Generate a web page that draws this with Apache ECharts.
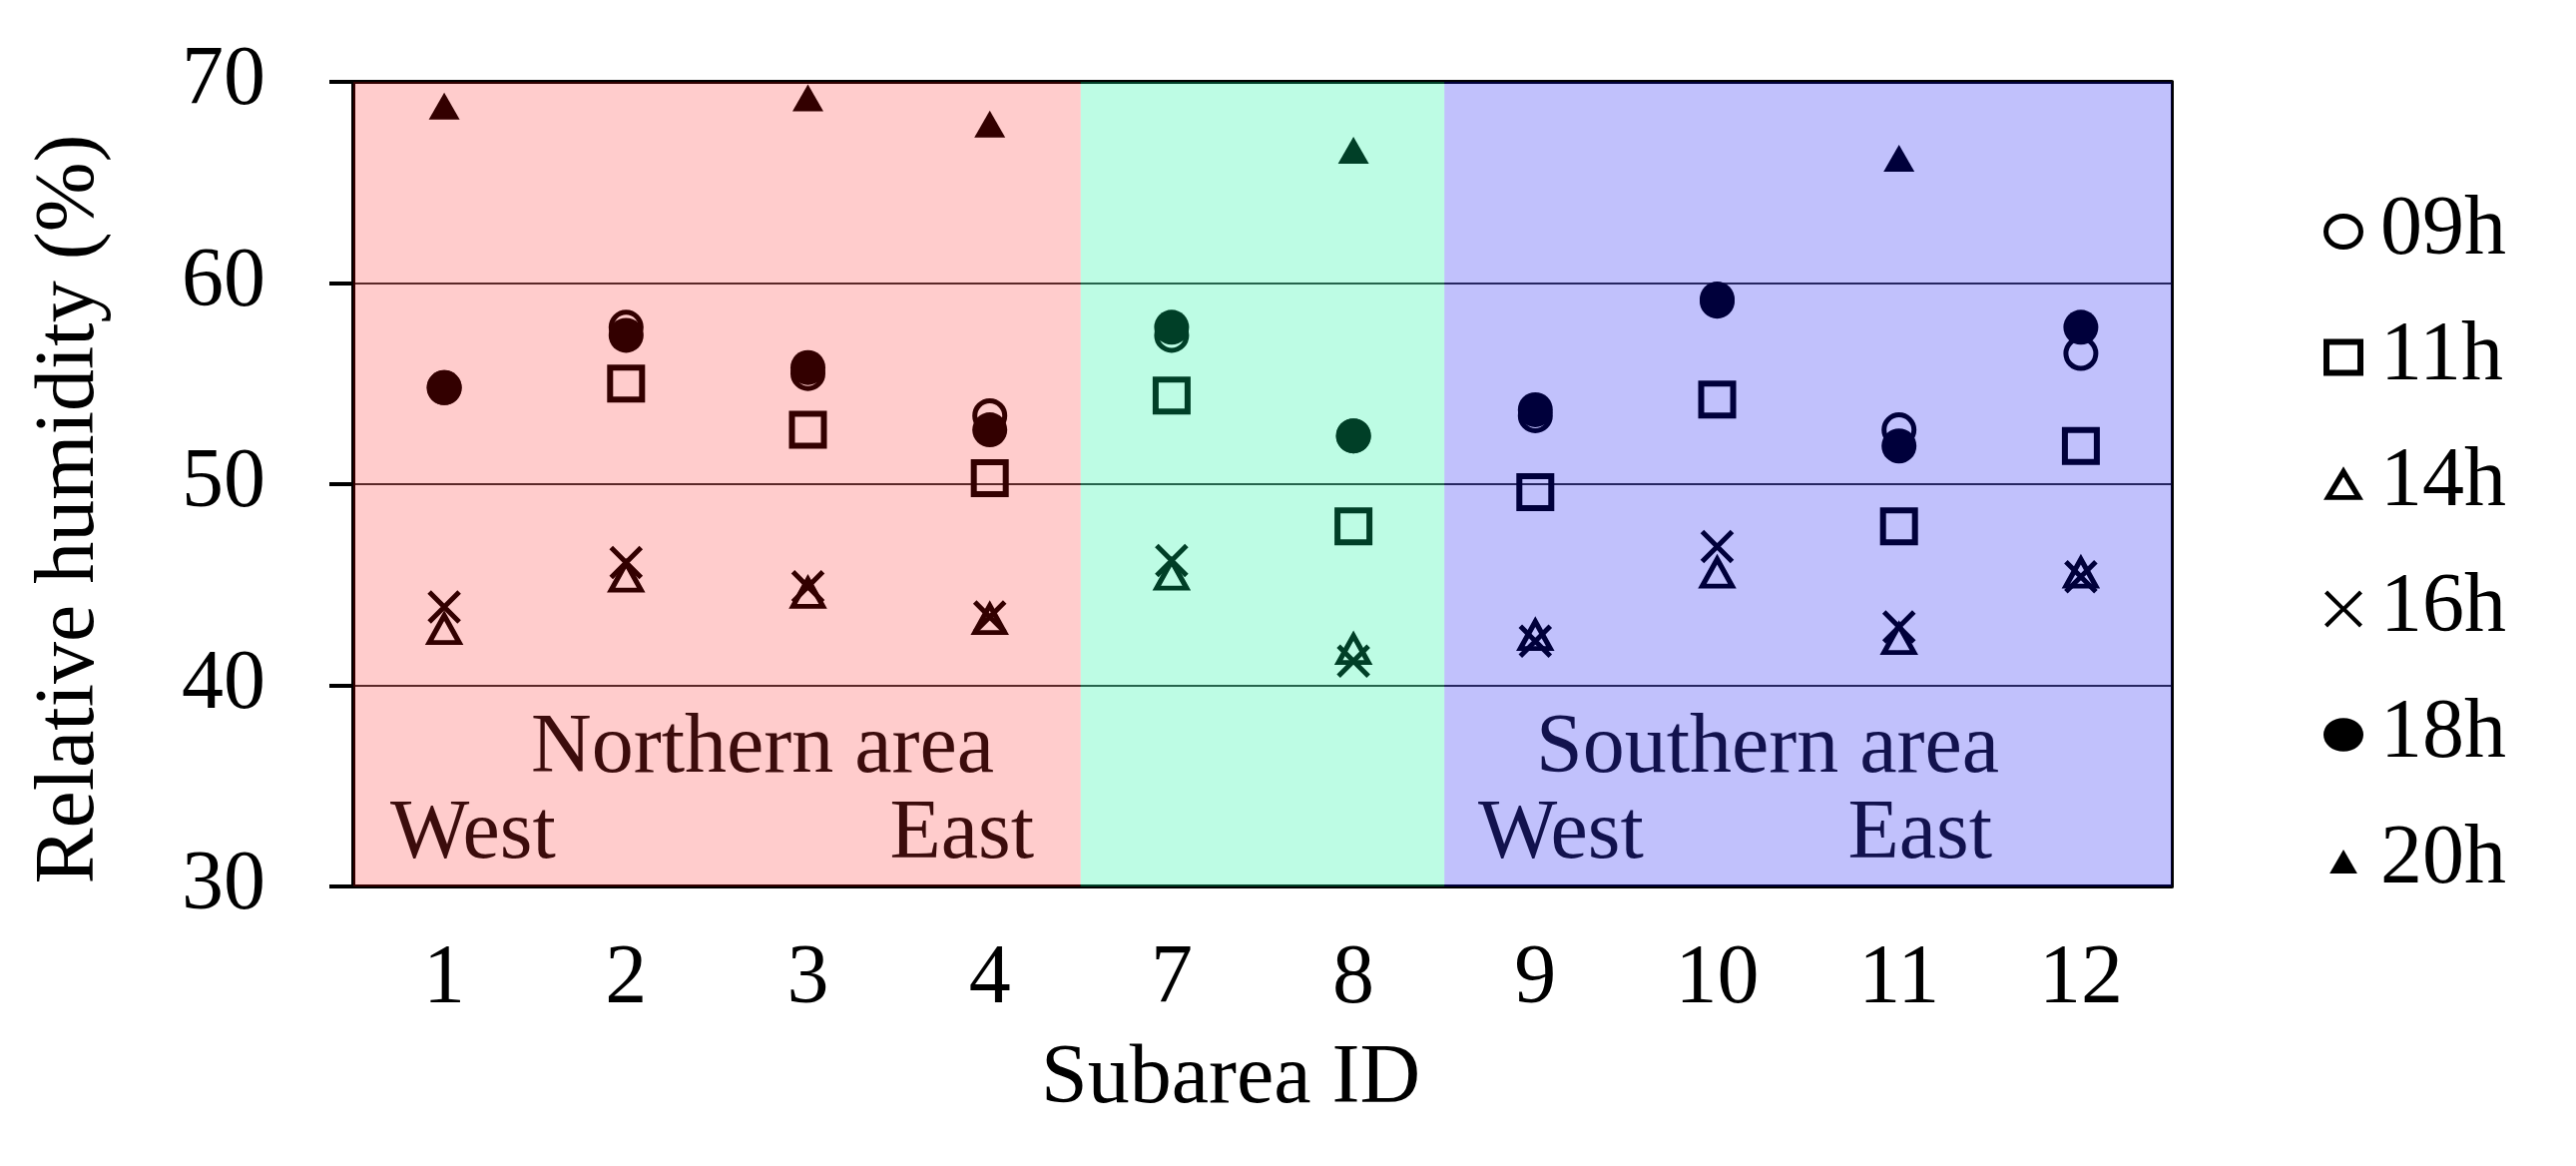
<!DOCTYPE html>
<html>
<head>
<meta charset="utf-8">
<title>Relative humidity by subarea</title>
<script src="https://cdn.jsdelivr.net/npm/echarts@6/dist/echarts.min.js"></script>
<style>
    html, body { margin: 0; padding: 0; background: #fff; }
    #humidity { width: 2581px; height: 1168px; }
</style>
</head>
<body>
<div id="humidity"></div>
<script>
// subarea ids on the x axis
var subareas = ['1', '2', '3', '4', '7', '8', '9', '10', '11', '12'];
var northern = ['1', '2', '3', '4'];
var central = ['7', '8'];
var southern = ['9', '10', '11', '12'];

// relative humidity (%), null = no point
var rh09 = [54.8, 57.8, 55.5, 53.4, 57.4, 52.4, 53.4, 59.1, 52.7, 56.5];
var rh11 = [null, 55.0, 52.7, 50.3, 54.4, 47.9, 49.6, 54.2, 47.9, 51.9];
var rh14 = [42.8, 45.4, 44.6, 43.3, 45.5, 41.8, 42.5, 45.6, 42.3, 45.6];
var rh16 = [43.9, 46.1, 44.9, 43.4, 46.2, 41.2, 42.2, 46.9, 42.9, 45.4];
var rh18 = [54.8, 57.4, 55.8, 52.7, 57.8, 52.4, 53.7, 59.2, 51.9, 57.8];
var rh20 = [68.8, null, 69.2, 67.9, null, 66.6, null, null, 66.2, null];

var yMin = 30, yMax = 70, yStep = 10;

var serif = 'Liberation Serif';
var crossPath = 'path://M0,0L10,10M10,0L0,10';
var clear = 'rgba(0,0,0,0)';

// legend icons as filled outlines so the strokes keep their weight
var ringIcon = 'path://M0,18A20,18 0 1 1 40,18A20,18 0 1 1 0,18Z M5,18A15,13 0 1 0 35,18A15,13 0 1 0 5,18Z';
var boxIcon = 'path://M0,0L40,0L40,37L0,37Z M6,6L6,31L34,31L34,6Z';
var openTriIcon = 'path://M19,0L38,32L0,32Z M19,10L8.5,27.5L29.5,27.5Z';
var crossIcon = 'path://M0,3L3,0L19,16L35,0L38,3L22,18.5L38,34L35,37L19,21L3,37L0,34L16,18.5Z';
var dotIcon = 'path://M0,16A19,16 0 1 1 38,16A19,16 0 1 1 0,16Z';
var smallTriIcon = 'path://M0,0M40,40M5,34L20,8L35,34Z';

var myChart = echarts.init(document.getElementById('humidity'));

function pointSeries(name, values, symbol, size, fill, border)
{
    return {
        name: name,
        type: 'scatter',
        xAxisIndex: 0,
        yAxisIndex: 0,
        symbol: symbol,
        symbolSize: size,
        itemStyle: {
            color: fill,
            borderColor: '#000',
            borderWidth: border,
            opacity: 1
        },
        data: values.map(function (v) { return v === null ? '-' : v; })
    };
}

function legendItem(name, icon)
{
    return {name: name, icon: icon, itemStyle: {color: '#000', borderWidth: 0}};
}

// area spans on the hidden 0..10 axis, counted from the group sizes
var nEnd = northern.length;
var cEnd = nEnd + central.length;
var sEnd = cEnd + southern.length;

option = {
    animation: false,
    backgroundColor: '#fff',
    grid: {
        left: 354,
        right: 405,
        top: 82,
        bottom: 280
    },
    legend: {
        orient: 'vertical',
        left: 2323,
        top: 185,
        itemWidth: 40,
        itemHeight: 37,
        itemGap: 42,
        selectedMode: false,
        textStyle: {
            fontFamily: serif,
            fontSize: 84,
            lineHeight: 84,
            color: '#000',
            padding: [0, 0, 0, 12]
        },
        data: [
            legendItem('09h', ringIcon),
            legendItem('11h', boxIcon),
            legendItem('14h', openTriIcon),
            legendItem('16h', crossIcon),
            legendItem('18h', dotIcon),
            legendItem('20h', smallTriIcon)
        ]
    },
    xAxis: [
        {
            type: 'category',
            data: subareas,
            boundaryGap: true,
            name: 'Subarea ID',
            nameLocation: 'middle',
            nameGap: 152,
            nameTextStyle: {
                fontFamily: serif,
                fontSize: 84,
                color: '#000',
                padding: [0, 64, 0, 0]
            },
            axisLine: {lineStyle: {color: '#000', width: 4}},
            axisTick: {length: 24, lineStyle: {color: '#000', width: 4}},
            axisLabel: {margin: 52, fontFamily: serif, fontSize: 84, color: '#000'},
            splitLine: {show: false}
        },
        {
            type: 'value',
            min: 0,
            max: subareas.length,
            position: 'top',
            axisLine: {show: true, lineStyle: {color: '#000', width: 4}},
            axisTick: {show: false},
            axisLabel: {show: false},
            splitLine: {show: false}
        }
    ],
    yAxis: [
        {
            type: 'value',
            min: yMin,
            max: yMax,
            interval: yStep,
            name: 'Relative humidity (%)',
            nameLocation: 'middle',
            nameGap: 241,
            nameTextStyle: {
                fontFamily: serif,
                fontSize: 84,
                color: '#000',
                padding: [0, 50, 0, 0]
            },
            axisLine: {show: true, lineStyle: {color: '#000', width: 4}},
            axisTick: {show: true, length: 24, lineStyle: {color: '#000', width: 4}},
            axisLabel: {margin: 88, fontFamily: serif, fontSize: 84, color: '#000'},
            splitLine: {lineStyle: {color: '#333', width: 2}}
        },
        {
            type: 'value',
            min: yMin,
            max: yMax,
            position: 'right',
            axisLine: {show: true, lineStyle: {color: '#000', width: 3}},
            axisTick: {show: false},
            axisLabel: {show: false},
            splitLine: {show: false}
        }
    ],
    graphic: [
        {type: 'text', z: 100, x: 532, y: 751, style: {text: 'Northern area', font: '84px "Liberation Serif"', fill: '#3c0c0c', align: 'left', verticalAlign: 'middle'}},
        {type: 'text', z: 100, x: 391, y: 837, style: {text: 'West', font: '84px "Liberation Serif"', fill: '#3c0c0c', align: 'left', verticalAlign: 'middle'}},
        {type: 'text', z: 100, x: 1036, y: 837, style: {text: 'East', font: '84px "Liberation Serif"', fill: '#3c0c0c', align: 'right', verticalAlign: 'middle'}},
        {type: 'text', z: 100, x: 1539, y: 751, style: {text: 'Southern area', font: '84px "Liberation Serif"', fill: '#12124e', align: 'left', verticalAlign: 'middle'}},
        {type: 'text', z: 100, x: 1481, y: 837, style: {text: 'West', font: '84px "Liberation Serif"', fill: '#12124e', align: 'left', verticalAlign: 'middle'}},
        {type: 'text', z: 100, x: 1996, y: 837, style: {text: 'East', font: '84px "Liberation Serif"', fill: '#12124e', align: 'right', verticalAlign: 'middle'}}
    ],
    series: [
        pointSeries('09h', rh09, 'circle', 30, clear, 5),
        pointSeries('11h', rh11, 'rect', 32, clear, 6),
        pointSeries('14h', rh14, 'triangle', [30, 27], clear, 5),
        pointSeries('16h', rh16, crossPath, 30, '#000', 5),
        pointSeries('18h', rh18, 'circle', 35, '#000', 0),
        pointSeries('20h', rh20, 'triangle', [31, 27], '#000', 0),
        {
            // tinted panels laid over the points, like the original
            name: 'areas',
            type: 'scatter',
            xAxisIndex: 1,
            yAxisIndex: 0,
            silent: true,
            z: 10,
            data: [],
            markArea: {
                silent: true,
                z: 10,
                data: [
                    [{xAxis: 0, itemStyle: {color: 'rgba(255,0,0,0.2)'}}, {xAxis: nEnd}],
                    [{xAxis: nEnd, itemStyle: {color: 'rgba(0,245,150,0.26)'}}, {xAxis: cEnd}],
                    [{xAxis: cEnd, itemStyle: {color: 'rgba(0,0,243,0.245)'}}, {xAxis: sEnd}]
                ]
            }
        }
    ]
};

myChart.setOption(option);
</script>
</body>
</html>
